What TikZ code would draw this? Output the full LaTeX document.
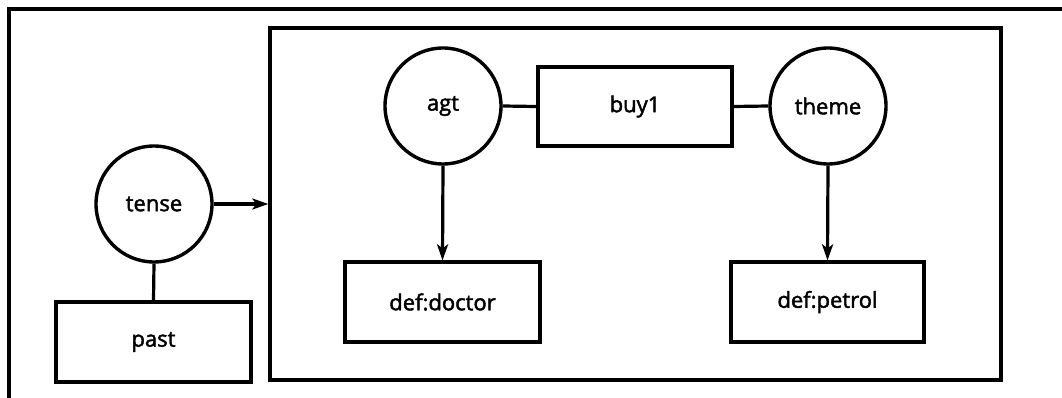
\documentclass[tikz,border=0pt]{standalone}
\usepackage{fontspec}
\setmainfont{Open Sans}
\newfontfamily\lblfont{Open Sans}[FakeBold=2]
\usetikzlibrary{arrows.meta}
\begin{document}
\begin{tikzpicture}[x=1pt,y=-1pt,
  every node/.style={font=\lblfont\fontsize{22}{25}\selectfont},
  circ/.style={draw,circle,line width=3.4pt,minimum size=116pt,inner sep=0pt},
  boxn/.style={draw,rectangle,line width=3.2pt,inner sep=0pt},
  conn/.style={line width=3.2pt},
  arr/.style={line width=3.2pt,-{Stealth[length=16pt,width=11pt,inset=4pt]}}]
\useasboundingbox (0,0) rectangle (1062,398);
\fill[white] (0,0) rectangle (1062,398);
% outer frame (cropped at right and bottom)
\draw[line width=3.4pt] (9,400) -- (9,9) -- (1064,9);
% inner frame
\node[boxn,line width=3.4pt,minimum width=731pt,minimum height=352pt] (frame) at (635.5,204) {};
% nodes
\node[circ] (tense) at (154,204) {tense};
\node[boxn,minimum width=195pt,minimum height=80pt] (past) at (153.5,342) {past};
\node[circ] (agt) at (443,106) {agt};
\node[boxn,minimum width=194pt,minimum height=79pt] (buy) at (635,106.5) {buy1};
\node[circ] (theme) at (828,106) {theme};
\node[boxn,minimum width=195pt,minimum height=80pt] (doctor) at (442.5,302) {def:doctor};
\node[boxn,minimum width=193pt,minimum height=80pt] (petrol) at (827.5,302) {def:petrol};
% connectors
\draw[arr] (tense.east) -- (frame.west |- tense.east);
\draw[conn] (tense.south) -- (past.north);
\draw[conn] (agt.east) -- (buy.west);
\draw[conn] (buy.east) -- (theme.west);
\draw[arr] (agt.south) -- (doctor.north);
\draw[arr] (theme.south) -- (petrol.north);
\end{tikzpicture}
\end{document}
